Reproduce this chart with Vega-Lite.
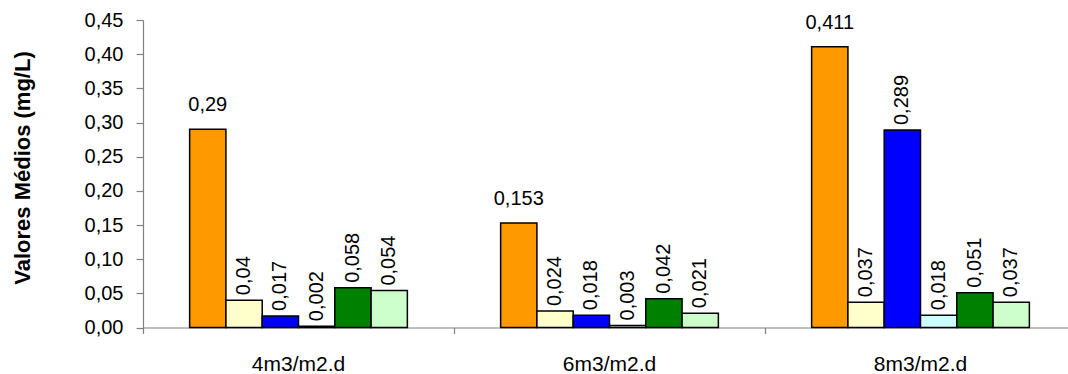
{
  "$schema": "https://vega.github.io/schema/vega-lite/v6.json",
  "autosize": {"type": "none"},
  "padding": {"left": 143, "top": 20, "right": 0, "bottom": 46.5},
  "width": 925,
  "height": 307.5,
  "config": {
    "locale": {"number": {"decimal": ",", "thousands": ".", "grouping": [3], "currency": ["", ""]}},
    "view": {"stroke": null},
    "font": "Liberation Sans"
  },
  "data": {
    "values": [
      {"taxa": "4m3/m2.d", "serie": "S1", "valor": 0.29},
      {"taxa": "4m3/m2.d", "serie": "S2", "valor": 0.04},
      {"taxa": "4m3/m2.d", "serie": "S3", "valor": 0.017},
      {"taxa": "4m3/m2.d", "serie": "S4", "valor": 0.002},
      {"taxa": "4m3/m2.d", "serie": "S5", "valor": 0.058},
      {"taxa": "4m3/m2.d", "serie": "S6", "valor": 0.054},
      {"taxa": "6m3/m2.d", "serie": "S1", "valor": 0.153},
      {"taxa": "6m3/m2.d", "serie": "S2", "valor": 0.024},
      {"taxa": "6m3/m2.d", "serie": "S3", "valor": 0.018},
      {"taxa": "6m3/m2.d", "serie": "S4", "valor": 0.003},
      {"taxa": "6m3/m2.d", "serie": "S5", "valor": 0.042},
      {"taxa": "6m3/m2.d", "serie": "S6", "valor": 0.021},
      {"taxa": "8m3/m2.d", "serie": "S1", "valor": 0.411},
      {"taxa": "8m3/m2.d", "serie": "S2", "valor": 0.037},
      {"taxa": "8m3/m2.d", "serie": "S3", "valor": 0.289},
      {"taxa": "8m3/m2.d", "serie": "S4", "valor": 0.018},
      {"taxa": "8m3/m2.d", "serie": "S5", "valor": 0.051},
      {"taxa": "8m3/m2.d", "serie": "S6", "valor": 0.037}
    ]
  },
  "encoding": {
    "x": {
      "field": "taxa", "type": "nominal", "sort": null,
      "scale": {"paddingInner": 0, "paddingOuter": 0, "range": [0, 933]},
      "axis": {
        "title": null, "labelAngle": 0, "bandPosition": 0, "labelOffset": 0,
        "tickSize": 6, "labelPadding": 20, "labelFontSize": 21, "labelColor": "black",
        "labelBound": false, "labelOverlap": false,
        "domainColor": "#808080", "tickColor": "#808080", "domainWidth": 1.2, "tickWidth": 1.2, "grid": false
      }
    },
    "xOffset": {
      "field": "serie", "type": "nominal", "sort": null,
      "scale": {"domain": ["L", "S1", "S2", "S3", "S4", "S5", "S6", "R"], "paddingInner": 0, "paddingOuter": 0.285}
    },
    "y": {
      "field": "valor", "type": "quantitative",
      "scale": {"domain": [0, 0.45], "nice": false},
      "axis": {
        "values": [0, 0.05, 0.1, 0.15, 0.2, 0.25, 0.3, 0.35, 0.4, 0.45],
        "format": ".2f", "grid": false,
        "tickSize": 7, "labelPadding": 13, "labelFontSize": 20, "labelColor": "black",
        "domainColor": "#808080", "tickColor": "#808080", "domainWidth": 1.2, "tickWidth": 1.2,
        "title": "Valores Médios (mg/L)", "titleFontSize": 22, "titleFontWeight": "bold", "titleColor": "black",
        "titleAngle": 270, "titleBaseline": "middle", "titleAlign": "center", "titleX": -120.5, "titleY": 147.5
      }
    }
  },
  "layer": [
    {
      "mark": {"type": "bar", "stroke": "black", "strokeWidth": 1.5},
      "encoding": {
        "color": {
          "field": "serie", "type": "nominal", "legend": null,
          "scale": {"domain": ["S1", "S2", "S3", "S4", "S5", "S6"],
                    "range": ["#FF9900", "#FFFFCC", "#0000FF", "#CCFFFF", "#008000", "#CCFFCC"]}
        }
      }
    },
    {
      "transform": [{"filter": "datum.serie != 'S1'"}],
      "mark": {"type": "text", "angle": 270, "align": "left", "baseline": "middle", "dx": 5, "fontSize": 20, "color": "black"},
      "encoding": {"text": {"field": "valor", "type": "quantitative", "format": ".3~f"}}
    },
    {
      "transform": [{"filter": "datum.serie == 'S1'"}],
      "mark": {"type": "text", "align": "center", "baseline": "bottom", "dy": -14, "fontSize": 20, "color": "black"},
      "encoding": {"text": {"field": "valor", "type": "quantitative", "format": ".3~f"}}
    }
  ]
}
